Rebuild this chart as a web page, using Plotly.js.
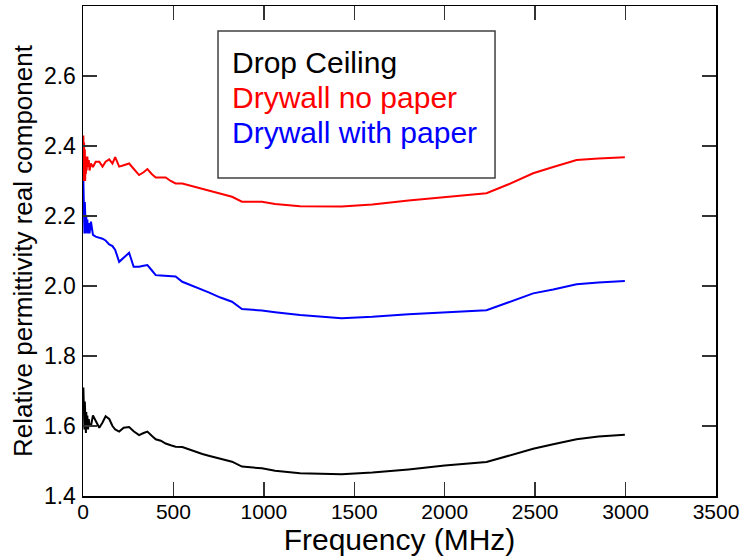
<!DOCTYPE html>
<html>
<head>
<meta charset="utf-8">
<script src="https://cdn.plot.ly/plotly-3.0.1.min.js"></script>
<style>html,body{margin:0;padding:0;background:#fff;}#chart{width:741px;height:556px;}</style>
</head>
<body>
<div id="chart"></div>
<script>
// Frequency samples (MHz)
var freq = [2,4,6,8,10,12,14,16,18,20,24,28,32,36,44,55,70,90,108,125,145,163,178,200,225,255,280,310,335,356,380,402,430,457,485,512,549,585,622,660,695,760,824,879,989,1062,1200,1430,1600,1800,2000,2231,2350,2489,2600,2729,2850,2996];

// Drop Ceiling
var dropCeiling = [1.71,1.60,1.69,1.59,1.67,1.60,1.66,1.58,1.64,1.60,1.63,1.59,1.62,1.60,1.60,1.63,1.615,1.595,1.61,1.628,1.62,1.60,1.59,1.584,1.595,1.597,1.585,1.574,1.58,1.584,1.572,1.562,1.558,1.55,1.545,1.541,1.54,1.533,1.526,1.52,1.515,1.507,1.498,1.484,1.479,1.472,1.465,1.462,1.467,1.476,1.487,1.497,1.515,1.535,1.548,1.562,1.57,1.575];

// Drywall no paper
var drywallNoPaper = [2.43,2.30,2.41,2.31,2.39,2.30,2.37,2.32,2.36,2.33,2.37,2.34,2.36,2.33,2.35,2.34,2.355,2.355,2.341,2.355,2.362,2.35,2.368,2.341,2.345,2.35,2.335,2.317,2.325,2.334,2.32,2.31,2.31,2.31,2.30,2.293,2.293,2.288,2.284,2.279,2.272,2.264,2.255,2.241,2.241,2.234,2.228,2.227,2.233,2.244,2.254,2.265,2.29,2.322,2.34,2.36,2.364,2.368];

// Drywall with paper
var drywallWithPaper = [2.30,2.17,2.27,2.15,2.24,2.16,2.22,2.15,2.20,2.16,2.19,2.15,2.18,2.15,2.184,2.146,2.141,2.138,2.135,2.13,2.119,2.114,2.103,2.069,2.08,2.095,2.055,2.055,2.058,2.06,2.045,2.031,2.03,2.029,2.028,2.027,2.012,2.005,1.998,1.989,1.982,1.967,1.955,1.934,1.93,1.925,1.917,1.908,1.912,1.919,1.925,1.931,1.953,1.979,1.99,2.005,2.01,2.014];

var seriesNames = ["Drop Ceiling", "Drywall no paper", "Drywall with paper"];
var seriesColors = ["#000000", "#ff0000", "#0000ff"];
var seriesValues = [dropCeiling, drywallNoPaper, drywallWithPaper];

var xTicks = [0,500,1000,1500,2000,2500,3000,3500];
var yTicks = [1.4,1.6,1.8,2.0,2.2,2.4,2.6];
var yTickText = ["1.4","1.6","1.8","2.0","2.2","2.4","2.6"];

var FONT = "Liberation Sans, Arial, Helvetica, sans-serif";

var traces = seriesValues.map(function(v, i){
  return {x: freq, y: v, type: "scatter", mode: "lines", name: seriesNames[i],
          line: {color: seriesColors[i], width: 2}, showlegend: false};
});

var legendY = [0.8853, 0.8139, 0.7424];
var annotations = seriesNames.map(function(n, i){
  return {xref: "paper", yref: "paper", x: 0.2325, y: legendY[i], xanchor: "left", yanchor: "middle",
          text: n, showarrow: false, font: {family: FONT, size: 30, color: seriesColors[i]}};
});

var layout = {
  width: 741, height: 556,
  margin: {l: 83, r: 25, t: 6, b: 60},
  paper_bgcolor: "#ffffff", plot_bgcolor: "#ffffff",
  font: {family: FONT, color: "#000"},
  xaxis: {
    range: [0, 3500], tickvals: xTicks, ticktext: xTicks.map(String),
    ticks: "inside", ticklen: 14, tickwidth: 1.5, tickcolor: "#333",
    showline: true, linecolor: "#000", linewidth: 1.5, mirror: "ticks",
    showgrid: false, zeroline: false,
    tickfont: {family: FONT, size: 21, color: "#000"},
    ticklabelstandoff: -4,
    title: {text: "Frequency (MHz)", font: {family: FONT, size: 30, color: "#000"}, standoff: 0}
  },
  yaxis: {
    range: [1.4, 2.8], tickvals: yTicks, ticktext: yTickText,
    ticks: "inside", ticklen: 14, tickwidth: 1.5, tickcolor: "#333",
    showline: true, linecolor: "#000", linewidth: 1.5, mirror: "ticks",
    showgrid: false, zeroline: false,
    tickfont: {family: FONT, size: 23, color: "#000"},
    ticklabelstandoff: 1,
    title: {text: "Relative permittivity real component", font: {family: FONT, size: 26, color: "#000"}, standoff: 4}
  },
  shapes: [{type: "rect", xref: "paper", yref: "paper", x0: 0.2133, x1: 0.6509, y0: 0.649, y1: 0.949,
            line: {color: "#404040", width: 1.5}, fillcolor: "#ffffff", layer: "above"}],
  annotations: annotations
};

Plotly.newPlot("chart", traces, layout, {staticPlot: true, displayModeBar: false});
</script>
</body>
</html>
